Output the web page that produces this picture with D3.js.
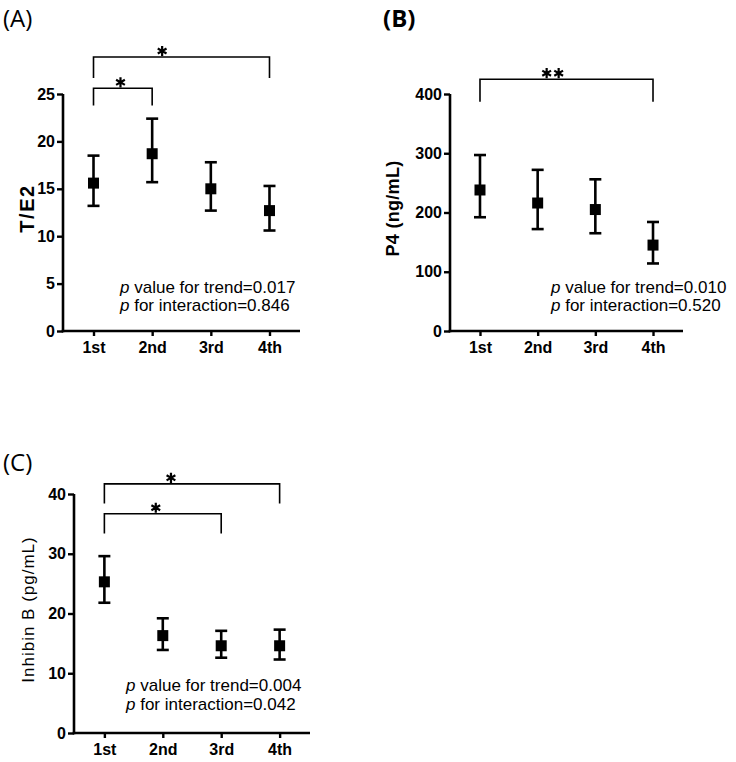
<!DOCTYPE html>
<html><head><meta charset="utf-8">
<script src="https://cdn.jsdelivr.net/npm/d3@7"></script>
<style>body{margin:0;background:#fff}</style>
</head><body>
<svg id="chart" width="736" height="762" style="background:#fff"></svg>
<script>
const categories = ["1st", "2nd", "3rd", "4th"];

const teMean  = [15.6, 18.7, 15.0, 12.7];
const teUpper = [18.5, 22.4, 17.8, 15.3];
const teLower = [13.2, 15.7, 12.7, 10.6];
const teTicks = [0, 5, 10, 15, 20, 25];

const p4Mean  = [238, 216, 205, 145];
const p4Upper = [297, 272, 256, 184];
const p4Lower = [192, 172, 165, 114];
const p4Ticks = [0, 100, 200, 300, 400];

const inhMean  = [25.3, 16.3, 14.6, 14.6];
const inhUpper = [29.6, 19.2, 17.1, 17.3];
const inhLower = [21.8, 13.9, 12.6, 12.3];
const inhTicks = [0, 10, 20, 30, 40];

// significance brackets: from/to categories, bar level and drop level (data units)
const teBrackets = [
  {from: "1st", to: "4th", level: 28.9, drop: 26.7, stars: 1, at: 0.39},
  {from: "1st", to: "2nd", level: 25.6, drop: 23.8, stars: 1, at: 0.46}
];
const p4Brackets = [
  {from: "1st", to: "4th", level: 425, drop: 387, stars: 2, at: 0.42}
];
const inhBrackets = [
  {from: "1st", to: "4th", level: 41.7, drop: 38.4, stars: 1, at: 0.38},
  {from: "1st", to: "3rd", level: 36.7, drop: 33.4, stars: 1, at: 0.44}
];

const teNotes  = ["value for trend=0.017", "for interaction=0.846"];
const p4Notes  = ["value for trend=0.010", "for interaction=0.520"];
const inhNotes = ["value for trend=0.004", "for interaction=0.042"];

const svg = d3.select("#chart");
const tickFont = "'Liberation Sans', Arial, sans-serif";

const panels = [
  {tag: "(A)", tagBold: false, tagX: 3, tagY: 27,
   left: 63, right: 300, top: 94, bottom: 331, max: 25, ticks: teTicks,
   mean: teMean, upper: teUpper, lower: teLower, brackets: teBrackets,
   label: "T/E2", labelBold: true, labelX: 27, labelSpacing: 1.5, labelSize: 20,
   notes: teNotes, noteX: 120, noteY: 292.5},
  {tag: "(B)", tagBold: true, tagX: 383, tagY: 27,
   left: 450, right: 683, top: 94, bottom: 331, max: 400, ticks: p4Ticks,
   mean: p4Mean, upper: p4Upper, lower: p4Lower, brackets: p4Brackets,
   label: "P4 (ng/mL)", labelBold: true, labelX: 393, labelSpacing: 0.3, labelSize: 18,
   notes: p4Notes, noteX: 551, noteY: 292.5},
  {tag: "(C)", tagBold: false, tagX: 3, tagY: 471,
   left: 74, right: 310, top: 494, bottom: 733, max: 40, ticks: inhTicks,
   mean: inhMean, upper: inhUpper, lower: inhLower, brackets: inhBrackets,
   label: "Inhibin B (pg/mL)", labelBold: false, labelX: 28, labelSpacing: 1, labelSize: 17,
   notes: inhNotes, noteX: 126, noteY: 691}
];

panels.forEach(p => {
  const g = svg.append("g");
  const x = d3.scalePoint().domain(categories).range([p.left, p.right]).padding(0.52);
  const y = d3.scaleLinear().domain([0, p.max]).range([p.bottom, p.top]);

  // panel tag
  g.append("text").attr("x", p.tagX).attr("y", p.tagY)
    .attr("font-family", "'Open Sans', sans-serif").attr("font-size", 24)
    .attr("font-weight", p.tagBold ? "bold" : "normal").text(p.tag);

  // y axis
  const ya = g.append("g").attr("transform", `translate(${p.left},0)`)
    .call(d3.axisLeft(y).tickValues(p.ticks).tickSize(6).tickPadding(2).tickSizeOuter(0));
  // x axis
  const xa = g.append("g").attr("transform", `translate(0,${p.bottom})`)
    .call(d3.axisBottom(x).tickSize(5).tickPadding(6).tickSizeOuter(0));
  [ya, xa].forEach(a => {
    a.select(".domain").attr("stroke", "#000").attr("stroke-width", 2.6);
    a.selectAll(".tick line").attr("stroke", "#000").attr("stroke-width", 2.4);
    a.selectAll(".tick text").attr("fill", "#000").attr("font-family", tickFont)
      .attr("font-size", 16).attr("font-weight", "bold");
  });
  ya.select(".domain").attr("d", `M0,${p.top}V${p.bottom + 1.3}`);
  xa.select(".domain").attr("d", `M${p.left - 1.3},0H${p.right}`);

  // y label
  g.append("text")
    .attr("transform", `translate(${p.labelX},${(p.top + p.bottom) / 2 - 4}) rotate(-90)`)
    .attr("text-anchor", "middle").attr("dominant-baseline", "central")
    .attr("font-family", tickFont).attr("font-size", p.labelSize)
    .attr("font-weight", p.labelBold ? "bold" : "normal")
    .attr("letter-spacing", p.labelSpacing)
    .text(p.label);

  // error bars
  const cap = 6;
  const eb = g.append("g").attr("stroke", "#000").attr("stroke-width", 2.6).attr("fill", "none");
  categories.forEach((c, i) => {
    const cx = x(c);
    eb.append("line").attr("x1", cx).attr("x2", cx).attr("y1", y(p.lower[i])).attr("y2", y(p.upper[i]));
    eb.append("line").attr("x1", cx - cap).attr("x2", cx + cap).attr("y1", y(p.upper[i])).attr("y2", y(p.upper[i]));
    eb.append("line").attr("x1", cx - cap).attr("x2", cx + cap).attr("y1", y(p.lower[i])).attr("y2", y(p.lower[i]));
  });
  const sq = 11;
  g.append("g").selectAll("rect").data(categories).join("rect")
    .attr("x", c => x(c) - sq / 2).attr("y", (c, i) => y(p.mean[i]) - sq / 2)
    .attr("width", sq).attr("height", sq).attr("fill", "#000");

  // brackets
  const star = d3.symbol(d3.symbolAsterisk, 72);
  p.brackets.forEach(b => {
    const x1 = x(b.from), x2 = x(b.to), yl = y(b.level), yd = y(b.drop);
    g.append("path").attr("d", `M${x1},${yd}V${yl}H${x2}V${yd}`)
      .attr("fill", "none").attr("stroke", "#000").attr("stroke-width", 1.6);
    const sx = x1 + (x2 - x1) * b.at;
    for (let k = 0; k < b.stars; k++) {
      const off = (k - (b.stars - 1) / 2) * 12;
      g.append("path").attr("d", star())
        .attr("transform", `translate(${sx + off},${yl - 6})`)
        .attr("fill", "none").attr("stroke", "#000").attr("stroke-width", 2.2);
    }
  });

  // notes
  p.notes.forEach((n, k) => {
    const t = g.append("text").attr("x", p.noteX).attr("y", p.noteY + k * 18.5)
      .attr("font-family", tickFont).attr("font-size", 17).attr("fill", "#000");
    t.append("tspan").attr("font-style", "italic").text("p");
    t.append("tspan").text(" " + n);
  });
});
</script>
</body></html>
